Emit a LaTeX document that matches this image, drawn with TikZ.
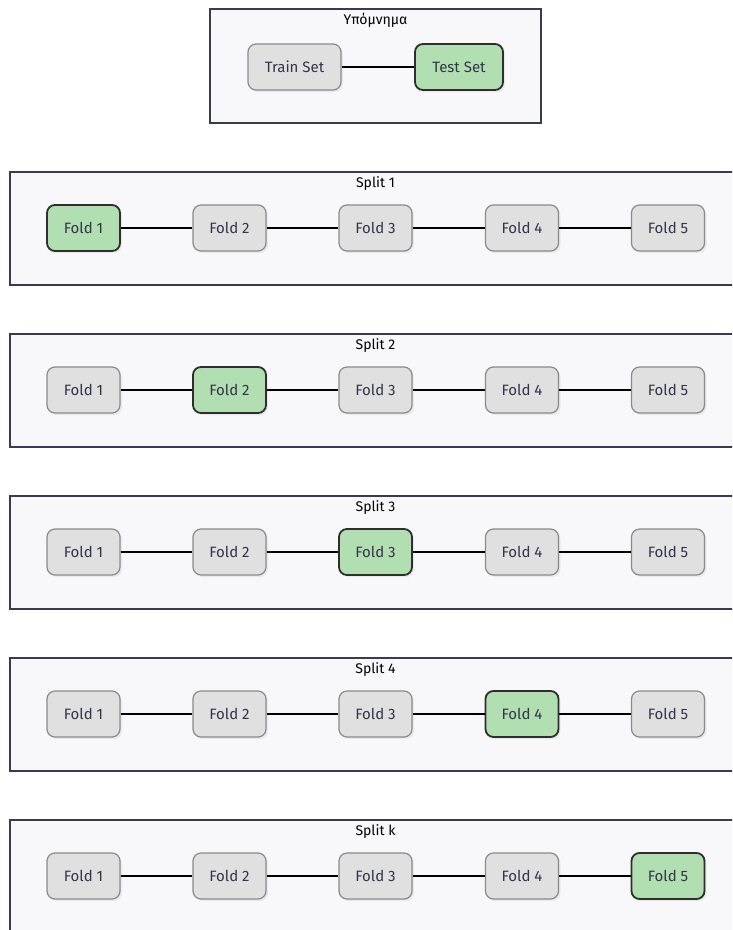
\documentclass[tikz,border=0pt]{standalone}
\usepackage{fontspec}
\setmainfont{Fira Sans}
\usetikzlibrary{shadows}
\definecolor{panelfill}{HTML}{F8F8FA}
\definecolor{panelline}{HTML}{3A3A50}
\definecolor{trainfill}{HTML}{E0E0E0}
\definecolor{trainline}{HTML}{8A8A8A}
\definecolor{testfill}{HTML}{B1DFB1}
\definecolor{testline}{HTML}{2E2E2E}
\definecolor{labeltext}{HTML}{33334A}
\tikzset{
  panel/.style={draw=panelline, line width=1.8pt, fill=panelfill},
  paneltitle/.style={font=\fontsize{14}{16}\selectfont, text=black, inner sep=0pt},
  foldbase/.style={rounded corners=8pt, minimum width=73pt, minimum height=46pt,
    inner sep=0pt, font=\fontsize{15}{17}\selectfont, text=labeltext,
    drop shadow={opacity=0.12, shadow xshift=2pt, shadow yshift=-2pt}},
  trainbox/.style={foldbase, draw=trainline, line width=1.2pt, fill=trainfill},
  testbox/.style={foldbase, draw=testline, line width=1.8pt, fill=testfill},
  link/.style={draw=black, line width=1.8pt}
}
\begin{document}
\begin{tikzpicture}[x=1pt, y=-1pt]
\useasboundingbox (0,0) rectangle (732,930);
\clip (0,0) rectangle (732,930);
\fill[white] (0,0) rectangle (732,930);

% legend
\draw[panel] (210,9) rectangle (541,123);
\node[paneltitle] (legtitle) at (375.5,20.5) {Υπόμνημα};
\node[trainbox, minimum width=93pt] (train) at (294.5,67) {Train Set};
\node[testbox, minimum width=88pt] (test) at (459,67) {Test Set};
\draw[link] (train) -- (test);

% one panel per split, the highlighted fold is the test fold
\foreach \s/\name in {1/Split 1, 2/Split 2, 3/Split 3, 4/Split 4, 5/Split k} {
  \pgfmathsetmacro{\top}{172+162*(\s-1)}
  \pgfmathsetmacro{\cy}{228+162*(\s-1)}
  \draw[panel] (10,\top) rectangle (745,\top+113);
  \node[paneltitle] (title\s) at (375.5,\top+11.5) {\name};
  \foreach \f/\fx in {1/83.5, 2/229.5, 3/375.5, 4/522, 5/668} {
    \ifnum\f=\s
      \node[testbox] (f\s-\f) at (\fx,\cy) {Fold \f};
    \else
      \node[trainbox] (f\s-\f) at (\fx,\cy) {Fold \f};
    \fi
  }
  \draw[link] (f\s-1) -- (f\s-2);
  \draw[link] (f\s-2) -- (f\s-3);
  \draw[link] (f\s-3) -- (f\s-4);
  \draw[link] (f\s-4) -- (f\s-5);
}
\end{tikzpicture}
\end{document}
